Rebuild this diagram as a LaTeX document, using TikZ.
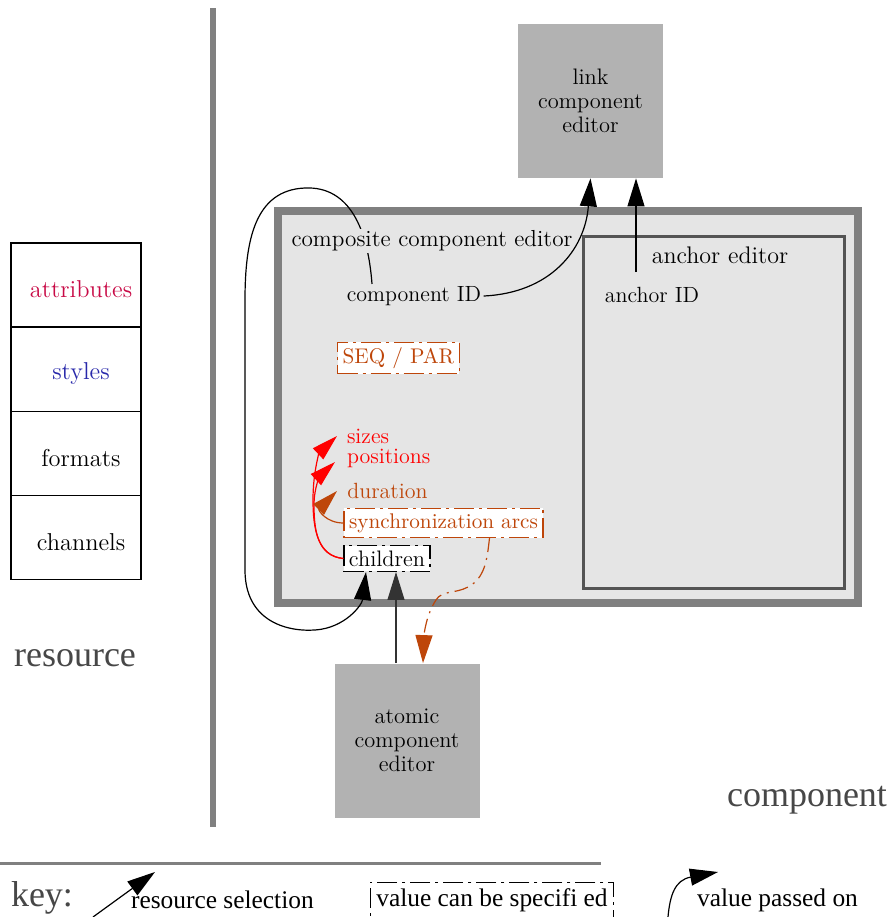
\documentclass[tikz,border=0pt]{standalone}
\usepackage{fontspec}
\newfontfamily\timesfont{Liberation Serif}
\usetikzlibrary{arrows.meta}

\definecolor{attrred}{RGB}{200,10,70}
\definecolor{styleblue}{RGB}{40,40,170}
\definecolor{rust}{RGB}{190,70,10}
\definecolor{boxgray}{gray}{0.7}
\definecolor{panelgray}{gray}{0.9}
\definecolor{framegray}{gray}{0.5}

\begin{document}
\begin{tikzpicture}[x=0.5pt,y=-0.5pt]
	\tikzstyle{editor} = [fill=boxgray, minimum width=72.5pt, minimum height=77pt, align=center, font=\fontsize{11.2}{12}\selectfont]
	\tikzstyle{slot} = [draw, line width=0.6pt, minimum width=65pt, minimum height=42pt]
	\tikzstyle{spec} = [draw, fill=white, line width=0.6pt, dash pattern=on 10pt off 2.5pt on 1.5pt off 2.5pt, inner sep=2.5pt, font=\fontsize{10.6}{12}\selectfont]
	\tikzstyle{lbl} = [inner sep=1pt, font=\fontsize{11}{13}\selectfont]
	\tikzstyle{keytext} = [font=\timesfont\fontsize{12.7}{14}\selectfont]
	\tikzstyle{side} = [text=black!72, font=\timesfont\fontsize{18}{20}\selectfont]
	\tikzstyle{bigtip} = [line width=0.6pt, -{Triangle[length=14pt,width=8.5pt]}]
	\tikzstyle{smalltip} = [line width=0.6pt, -{Triangle[length=13pt,width=7.5pt]}]

	\useasboundingbox (0,0) rectangle (895,917);

	% resource side
	\foreach \name/\col [count=\i] in {attributes/attrred, styles/styleblue, formats/black, channels/black} {
		\node[slot] (s\i) at (76,200.6+84.3*\i) {};
		\node[text=\col, font=\fontsize{12.2}{14}\selectfont] (t\i) at (81,205+84.3*\i) {\name};
	}
	\node[side] (res) at (75,658) {resource};
	\draw[framegray, line width=3pt] (213,8) -- (213,827);

	% editors
	\node[editor] (link) at (590.5,101) {link\\component\\editor};
	\node[editor] (atom) at (407,740.5) {atomic\\component\\editor};
	\node[draw=framegray, fill=panelgray, line width=4pt, minimum width=290pt, minimum height=196pt] (comp) at (568,407) {};
	\node[draw=black!67, fill=panelgray, line width=1.5pt, minimum width=130.5pt, minimum height=176pt] (anch) at (713.5,412) {};

	\node[lbl] (cid) at (414,296) {component ID};
	\node[lbl, font=\fontsize{12}{14}\selectfont] (aed) at (720,255) {anchor editor};
	\node[lbl] (aid) at (652,295) {anchor ID};
	\node[spec, draw=rust, text=rust] (seq) at (398.5,358) {SEQ / PAR};
	\node[lbl, inner sep=0.3pt, text=red, anchor=west] (sizes) at (346,436) {sizes};
	\node[lbl, inner sep=0.3pt, text=red, anchor=west] (pos) at (346,458) {positions};
	\node[lbl, text=rust, anchor=west] (dur) at (345,491) {duration};
	\node[spec, draw=rust, text=rust] (sync) at (443.5,523) {synchronization arcs};
	\node[spec, font=\fontsize{11.2}{13}\selectfont] (chl) at (387,558.5) {children};

	% loop round the composite editor
	\draw[bigtip] ([xshift=-21pt]cid.north) .. controls (368,230) and (350,186) .. (305,188)
		.. controls (255,190) and (245,240) .. (245,300) -- (245,570)
		.. controls (245,620) and (285,632) .. (315,630)
		.. controls (345,628) and (362,605) .. ([xshift=-10.5pt]chl.south);
	\node[lbl, fill=panelgray, font=\fontsize{11.6}{13}\selectfont] (cce) at (432,241) {composite component editor};

	\draw[bigtip] (cid.east) .. controls (550,293) and (585,250) .. (link.south);
	\coordinate (aidtop) at (636,272);
	\draw[bigtip] (aidtop) -- (aidtop |- link.south);
	\draw[bigtip, black!80] ([xshift=-5.5pt]atom.north) -- ([xshift=4.5pt]chl.south);

	\draw[red, smalltip] (chl.west) .. controls (318,556) and (313,530) .. (313,500)
		.. controls (313,470) and (320,452) .. ([xshift=-4.5pt]sizes.west);
	\draw[red, smalltip] (chl.west) .. controls (318,556) and (314,532) .. (314,505)
		.. controls (314,485) and (322,474) .. ([xshift=-5.5pt,yshift=-2pt]pos.west);
	\draw[rust, smalltip] (sync.west) .. controls (326,523) and (318,510) .. ([xshift=-4pt]dur.west);
	\draw[rust, bigtip, dash pattern=on 7pt off 3pt on 1pt off 3pt] ([xshift=23pt]sync.south)
		.. controls (487,560) and (485,578) .. (468,587)
		.. controls (455,594) and (442,590) .. (436,600)
		.. controls (426,615) and (424,635) .. ([xshift=8pt]atom.north);

	\node[side] (cmp) at (807,800) {component};

	% key
	\draw[framegray, line width=1.5pt] (0,863) -- (601,863);
	\node[side] (key) at (42,898) {key:};
	\coordinate (kfoot) at (93,917);
	\coordinate (khead) at (155,872);
	\draw[bigtip] (kfoot) -- (khead);
	\node[keytext, anchor=west] (ksel) at (124,900) {resource selection};
	\node[spec, keytext, inner sep=3pt] (kval) at (492,900) {value can be specifi ed};
	\coordinate (kvfoot) at (668,917);
	\coordinate (kvhead) at (718,872);
	\draw[bigtip] (kvfoot) .. controls (670,895) and (675,880) .. (kvhead);
	\node[keytext, anchor=west] (kpass) at (690,900) {value passed on};
\end{tikzpicture}
\end{document}
